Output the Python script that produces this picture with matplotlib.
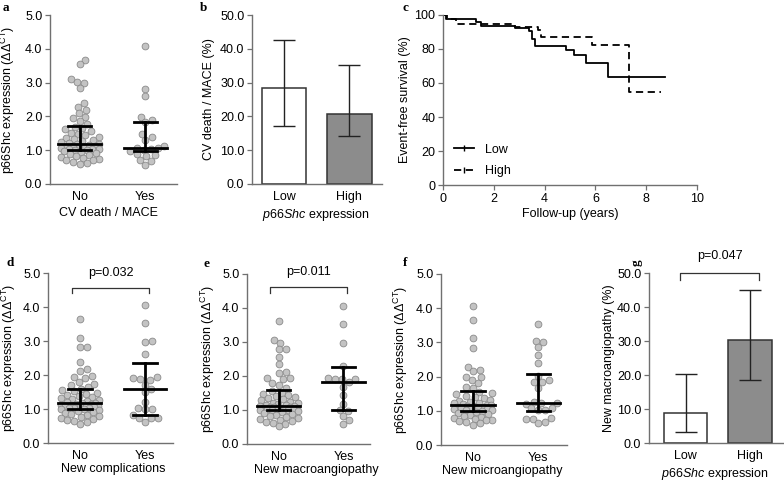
import numpy as np
import matplotlib
matplotlib.use('Agg')
import matplotlib.pyplot as plt
from matplotlib.lines import Line2D

plt.rcParams['font.family'] = ['Liberation Sans', 'DejaVu Sans']
plt.rcParams['font.size'] = 9
plt.rcParams['mathtext.fontset'] = 'custom'
plt.rcParams['mathtext.rm'] = 'Liberation Sans'
plt.rcParams['mathtext.it'] = 'Liberation Sans:italic'

# ---- data ----
groups = ['No', 'Yes']
bar_groups = ['Low', 'High']

# a: CV death / MACE
a_no = [3.67, 3.54, 3.11, 3.03, 2.99, 2.83, 2.39, 2.29, 2.19, 2.09, 1.98, 1.94, 1.86, 1.78,
        1.70, 1.66, 1.62, 1.57, 1.52, 1.48, 1.44, 1.40, 1.36, 1.32, 1.29, 1.26, 1.23, 1.20,
        1.18, 1.17, 1.15, 1.13, 1.12, 1.10, 1.09, 1.07, 1.06, 1.05, 1.04, 1.03, 1.02, 1.01,
        0.98, 0.95, 0.92, 0.89, 0.86, 0.83, 0.80, 0.77, 0.74, 0.72, 0.70, 0.66, 0.63, 0.60]
a_yes = [4.08, 2.82, 2.61, 1.97, 1.88, 1.82, 1.48, 1.38, 1.30, 1.12, 1.07, 1.06, 1.05, 1.02,
         0.97, 0.88, 0.85, 0.82, 0.70, 0.68, 0.56]
a_med = [1.19, 1.06]
a_q1 = [1.00, 0.97]
a_q3 = [1.73, 1.82]

# b: CV death / MACE (%) by p66Shc expression
b_pct = [28.3, 20.8]
b_lo = [17.2, 14.1]
b_hi = [42.6, 35.1]

# c: Kaplan-Meier event-free survival
low_t = [0, 0.1, 1.3, 1.48, 2.83, 3.38, 3.52, 3.62, 4.84, 5.16, 5.62, 6.48, 8.74]
low_s = [100, 97.6, 95.7, 93.5, 92.5, 90.5, 86.0, 82.0, 79.5, 76.5, 71.6, 63.7, 63.7]
high_t = [0, 0.15, 0.51, 2.83, 3.74, 3.84, 5.85, 7.32, 8.57]
high_s = [100, 97.6, 94.9, 93.1, 91.0, 86.8, 82.4, 54.9, 54.9]

# d: new complications
d_no = [3.65, 3.10, 2.81, 2.81, 2.39, 2.17, 2.12, 1.97, 1.95, 1.90, 1.80, 1.75, 1.70, 1.65, 1.60,
        1.56, 1.52, 1.48, 1.45, 1.41, 1.38, 1.35, 1.32, 1.29, 1.26, 1.23, 1.21, 1.19, 1.17,
        1.15, 1.14, 1.13, 1.12, 1.10, 1.09, 1.08, 1.07, 1.05, 1.04, 1.03, 1.02, 1.01, 1.00,
        0.97, 0.94, 0.91, 0.88, 0.85, 0.82, 0.79, 0.76, 0.73, 0.71, 0.69, 0.66, 0.62, 0.56]
d_yes = [4.06, 3.52, 3.01, 2.98, 2.61, 1.95, 1.90, 1.87, 1.85, 1.72, 1.58, 1.50, 1.22, 1.02,
         1.00, 0.99, 0.82, 0.75, 0.73, 0.73, 0.63]
d_med = [1.17, 1.59]
d_q1 = [1.00, 0.83]
d_q3 = [1.60, 2.36]

# e: new macroangiopathy
e_no = [3.62, 3.06, 2.98, 2.78, 2.78, 2.57, 2.36, 2.13, 2.10, 1.93, 1.93, 1.90, 1.80, 1.73, 1.66,
        1.55, 1.50, 1.46, 1.43, 1.40, 1.37, 1.34, 1.31, 1.28, 1.25, 1.22, 1.20, 1.18, 1.16, 1.14,
        1.12, 1.11, 1.10, 1.09, 1.08, 1.07, 1.06, 1.05, 1.04, 1.03, 1.02, 1.02, 1.01, 1.00, 1.00,
        0.97, 0.94, 0.91, 0.88, 0.85, 0.82, 0.79, 0.76, 0.74, 0.72, 0.69, 0.66, 0.63, 0.60, 0.53]
e_yes = [4.07, 3.53, 2.98, 2.30, 1.95, 1.92, 1.92, 1.90, 1.82, 1.68, 1.43, 1.19, 1.00, 0.97,
         0.82, 0.70, 0.59]
e_med = [1.13, 1.82]
e_q1 = [1.00, 1.00]
e_q3 = [1.58, 2.27]

# f: new microangiopathy
f_no = [4.07, 3.66, 3.12, 2.83, 2.29, 2.18, 2.15, 1.98, 1.98, 1.90, 1.80, 1.71, 1.66,
        1.56, 1.52, 1.48, 1.44, 1.40, 1.37, 1.33, 1.30, 1.27, 1.24, 1.22, 1.20, 1.18,
        1.16, 1.15, 1.13, 1.12, 1.10, 1.09, 1.08, 1.06, 1.05, 1.04, 1.03, 1.01, 1.00,
        0.97, 0.94, 0.91, 0.88, 0.85, 0.82, 0.79, 0.76, 0.74, 0.72, 0.69, 0.66, 0.63, 0.59]
f_yes = [3.55, 3.05, 3.00, 2.86, 2.64, 2.39, 2.02, 1.90, 1.83, 1.83, 1.66, 1.27, 1.22, 1.22,
         1.20, 1.07, 1.07, 1.03, 1.03, 0.80, 0.75, 0.75, 0.68, 0.63]
f_med = [1.17, 1.24]
f_q1 = [1.00, 0.98]
f_q3 = [1.59, 2.07]

# g: new macroangiopathy (%) by p66Shc expression
g_pct = [8.7, 30.2]
g_lo = [3.3, 18.5]
g_hi = [20.3, 45.0]

W, H = 784, 482
AXIS_COL = '#707070'
FS = 9
fig = plt.figure(figsize=(W / 100, H / 100), dpi=100)


def add_axes(left, top, right, bottom):
    # pixel box -> figure fraction
    ax = fig.add_axes([left / W, 1 - bottom / H, (right - left) / W, (bottom - top) / H])
    for s in ['top', 'right']:
        ax.spines[s].set_visible(False)
    for s in ['left', 'bottom']:
        ax.spines[s].set_color(AXIS_COL)
        ax.spines[s].set_linewidth(1.0)
    ax.tick_params(direction='out', length=3.5, width=0.9, color=AXIS_COL, labelsize=FS, pad=2)
    return ax


def swarm_offsets(vals, xscale, yscale, d=7.0, maxw=19.0):
    # beeswarm in pixel space, capped to +-maxw; overlap allowed once the row is full
    vals = np.asarray(vals)
    offs = np.zeros(len(vals))
    placed = []
    grid = np.arange(-maxw, maxw + 0.01, 1.0)
    for i in np.argsort(vals):
        y = vals[i] * yscale
        cands = [0.0]
        for xp, yp in placed:
            dy = abs(y - yp)
            if dy < d:
                dx = np.sqrt(d ** 2 - dy ** 2)
                cands += [xp + dx, xp - dx]
        cands = [c for c in cands if abs(c) <= maxw]
        cands.sort(key=abs)
        best = None
        for c in cands:
            if all((c - xp) ** 2 + (y - yp) ** 2 >= d ** 2 - 1e-6 for xp, yp in placed):
                best = c
                break
        if best is None:
            pts = np.array(placed)
            dist = np.array([np.min((g - pts[:, 0]) ** 2 + (y - pts[:, 1]) ** 2) for g in grid])
            score = dist - 0.01 * np.abs(grid)
            best = grid[np.argmax(score)]
        placed.append((best, y))
        offs[i] = best / xscale
    return offs


def dot_panel(box, xlim, data, med, q1, q3, xlabel, label, lab_xy, xl_x, yl_x, xl_y):
    ax = add_axes(*box)
    ax.set_xlim(*xlim)
    ax.set_ylim(0, 5)
    xscale = (box[2] - box[0]) / (xlim[1] - xlim[0])
    yscale = (box[3] - box[1]) / 5.0
    for i, vals in enumerate(data):
        x = i + swarm_offsets(vals, xscale, yscale)
        ax.scatter(x, vals, s=24, facecolor='#c3c3c3', edgecolor='#8a8a8a', linewidth=0.6,
                   zorder=2, clip_on=False)
        ax.plot([i - 0.33, i + 0.33], [med[i], med[i]], color='k', lw=2.0, zorder=3)
        ax.plot([i, i], [q1[i], q3[i]], color='k', lw=2.0, zorder=3)
        for q in (q1[i], q3[i]):
            ax.plot([i - 0.18, i + 0.18], [q, q], color='k', lw=2.0, zorder=3)
    ax.set_yticks(np.arange(0, 5.01, 1.0))
    ax.set_yticklabels(['%.1f' % v for v in np.arange(0, 5.01, 1.0)])
    ax.set_xticks(range(len(groups)))
    ax.set_xticklabels(groups)
    ax.tick_params(axis='x', length=0, pad=5)
    ax.set_xlabel(xlabel, fontsize=FS)
    ax.xaxis.set_label_coords(xl_x, xl_y)
    ax.set_ylabel(r'p66Shc expression ($\Delta\Delta^{\mathrm{CT}}$)', fontsize=FS)
    ax.yaxis.set_label_coords(yl_x, 0.5)
    fig.text(lab_xy[0] / W, 1 - lab_xy[1] / H, label, family='Liberation Serif',
             weight='bold', fontsize=9.5, ha='center', va='center')
    return ax


def bar_panel(box, xlim, pct, lo, hi, ylabel, label, lab_xy, yl_x, lab_rot=0):
    ax = add_axes(*box)
    ax.set_xlim(*xlim)
    ax.set_ylim(0, 50)
    x = np.arange(len(bar_groups))
    ax.bar(x, pct, width=0.68, color=['white', '#8c8c8c'], edgecolor='#333333', linewidth=1.1,
           zorder=2)
    yerr = [np.array(pct) - np.array(lo), np.array(hi) - np.array(pct)]
    ax.errorbar(x, pct, yerr=yerr, fmt='none', ecolor='#222222', elinewidth=1.0, capsize=8,
                capthick=1.0, zorder=3)
    ax.set_yticks(np.arange(0, 50.1, 10))
    ax.set_yticklabels(['%.1f' % v for v in np.arange(0, 50.1, 10)])
    ax.set_xticks(x)
    ax.set_xticklabels(bar_groups)
    ax.tick_params(axis='x', length=0, pad=5)
    ax.set_xlabel(r'$\mathit{p66Shc}$ expression', fontsize=FS)
    ax.xaxis.set_label_coords(0.49, -0.135)
    ax.set_ylabel(ylabel, fontsize=FS)
    ax.yaxis.set_label_coords(yl_x, 0.5)
    fig.text(lab_xy[0] / W, 1 - lab_xy[1] / H, label, family='Liberation Serif',
             weight='bold', fontsize=9.5, ha='center', va='center', rotation=lab_rot)
    return ax


def bracket(ax, x0, x1, ytop, ybot, text, ytext):
    ax.plot([x0, x0, x1, x1], [ybot, ytop, ytop, ybot], color='#333333', lw=0.9, clip_on=False)
    ax.text((x0 + x1) / 2, ytext, text, ha='center', va='center', fontsize=FS)


# a
dot_panel((50, 15, 177, 184), (-0.45, 1.48), [a_no, a_yes], a_med, a_q1, a_q3,
          'CV death / MACE', 'a', (6, 8), 0.46, -0.26, -0.135)

# b
bar_panel((252, 15, 382, 184), (-0.49, 1.5), b_pct, b_lo, b_hi, 'CV death / MACE (%)', 'b',
          (203, 8), -0.285)

# c
ax = add_axes(443, 15, 697, 185)
ax.plot(low_t, low_s, drawstyle='steps-post', color='k', lw=1.3)
ax.plot(high_t, high_s, drawstyle='steps-post', color='k', lw=1.3, dashes=(4, 2.5))
ax.set_xlim(0, 10)
ax.set_ylim(0, 100)
ax.set_xticks(np.arange(0, 11, 2))
ax.set_yticks(np.arange(0, 101, 20))
ax.set_xlabel('Follow-up (years)', fontsize=FS)
ax.xaxis.set_label_coords(0.5, -0.135)
ax.set_ylabel('Event-free survival (%)', fontsize=FS)
ax.yaxis.set_label_coords(-0.126, 0.5)
handles = [Line2D([], [], color='k', lw=1.3, marker='|', markersize=5),
           Line2D([], [], color='k', lw=1.3, dashes=(4, 2.5), marker='|', markersize=5)]
ax.legend(handles, ['Low', 'High'], loc='lower left', bbox_to_anchor=(0.0, -0.02),
          frameon=False, handlelength=1.6, handletextpad=0.9, labelspacing=0.75, fontsize=FS)
fig.text(405 / W, 1 - 8 / H, 'c', family='Liberation Serif', weight='bold', fontsize=9.5,
         ha='center', va='center')

# d
ax = dot_panel((48, 273, 173, 443), (-0.49, 1.43), [d_no, d_yes], d_med, d_q1, d_q3,
               'New complications', 'd', (10, 263), 0.52, -0.24, -0.118)
bracket(ax, -0.12, 1.06, 4.57, 4.40, 'p=0.032', 5.0)

# e
ax = dot_panel((247, 274, 370, 444), (-0.49, 1.41), [e_no, e_yes], e_med, e_q1, e_q3,
               'New macroangiopathy', 'e', (206, 264), 0.56, -0.244, -0.118)
bracket(ax, -0.14, 1.05, 4.63, 4.44, 'p=0.011', 5.05)

# f
dot_panel((441, 274, 567, 445), (-0.49, 1.44), [f_no, f_yes], f_med, f_q1, f_q3,
          'New microangiopathy', 'f', (405, 263), 0.49, -0.246, -0.118)

# g
ax = bar_panel((649, 273, 783, 443), (-0.566, 1.51), g_pct, g_lo, g_hi,
               'New macroangiopathy (%)', 'g', (637, 263), -0.254, lab_rot=90)
bracket(ax, -0.085, 1.14, 50.0, 47.9, 'p=0.047', 55.0)

fig.savefig('out.png', dpi=100)
